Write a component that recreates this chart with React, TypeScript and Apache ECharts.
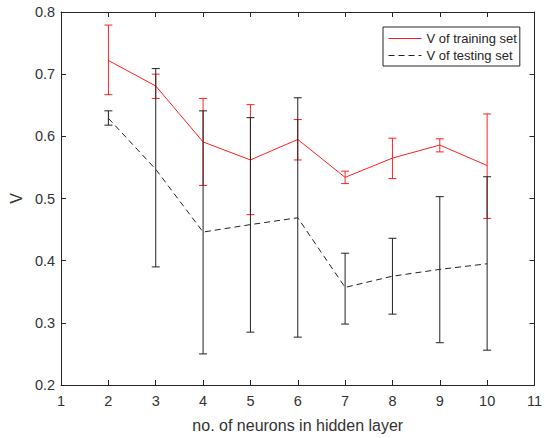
import React, { useEffect, useRef } from "react";
import * as echarts from "echarts";

const neurons = [2, 3, 4, 5, 6, 7, 8, 9, 10];
const trainMean = [0.722, 0.681, 0.591, 0.562, 0.595, 0.534, 0.565, 0.586, 0.553];
const trainHigh = [0.779, 0.700, 0.661, 0.651, 0.627, 0.544, 0.597, 0.596, 0.636];
const trainLow = [0.667, 0.661, 0.521, 0.474, 0.562, 0.524, 0.532, 0.575, 0.468];
const testMean = [0.629, 0.547, 0.446, 0.458, 0.469, 0.357, 0.375, 0.386, 0.395];
const testHigh = [0.641, 0.709, 0.641, 0.630, 0.662, 0.412, 0.436, 0.503, 0.535];
const testLow = [0.618, 0.390, 0.250, 0.285, 0.277, 0.298, 0.314, 0.268, 0.256];
const xRange = [1, 11];
const yRange = [0.2, 0.8];

const AXIS = "#262626";
const TEXT = "#333333";
const RED = "#ff2020";
const BLACK = "#222";
const FONT = "Liberation Sans, Arial, sans-serif";

function errorSeries(name: string, low: number[], high: number[], color: string, z: number) {
  return {
    type: "custom",
    name,
    z,
    data: neurons.map((x, i) => [x, low[i], high[i]]),
    renderItem: (params: any, api: any) => {
      const x = api.value(0);
      const lo = api.coord([x, api.value(1)]);
      const hi = api.coord([x, api.value(2)]);
      const w = 4;
      const style = { stroke: color, lineWidth: 1 };
      return {
        type: "group",
        children: [
          { type: "line", shape: { x1: lo[0], y1: lo[1], x2: hi[0], y2: hi[1] }, style },
          { type: "line", shape: { x1: lo[0] - w, y1: lo[1], x2: lo[0] + w, y2: lo[1] }, style },
          { type: "line", shape: { x1: hi[0] - w, y1: hi[1], x2: hi[0] + w, y2: hi[1] }, style },
        ],
      };
    },
  };
}

export default function App() {
  const ref = useRef<HTMLDivElement>(null);
  useEffect(() => {
    document.body.style.margin = "0";
    document.body.style.overflow = "hidden";
    const chart = echarts.init(ref.current!, null, { renderer: "svg" });
    const axisLine = { show: true, lineStyle: { color: AXIS, width: 1 } };
    const tick = { show: true, inside: true, length: 5, lineStyle: { color: AXIS } };
    const label = { color: TEXT, fontSize: 14.5, fontFamily: FONT };
    chart.setOption({
      animation: false,
      backgroundColor: "#fff",
      textStyle: { fontFamily: FONT },
      grid: { left: 59, right: 10, top: 12, bottom: 51 },
      legend: {
        orient: "vertical",
        left: 383,
        top: 27,
        padding: [5, 3, 4, 5],
        itemGap: 4,
        itemWidth: 33,
        itemHeight: 13,
        borderColor: AXIS,
        borderWidth: 1,
        borderRadius: 0,
        backgroundColor: "#fff",
        itemStyle: { opacity: 0 },
        lineStyle: { width: 1 },
        textStyle: { color: "#262626", fontSize: 13, fontFamily: FONT },
        data: ["V of training set", "V of testing set"],
      },
      xAxis: [
        {
          type: "value",
          min: xRange[0],
          max: xRange[1],
          interval: 1,
          axisLine,
          axisTick: tick,
          axisLabel: { ...label, margin: 8 },
          splitLine: { show: false },
          name: "no. of neurons in hidden layer",
          nameLocation: "middle",
          nameGap: 32,
          nameTextStyle: { color: TEXT, fontSize: 16, fontFamily: FONT },
        },
        {
          type: "value",
          position: "top",
          min: xRange[0],
          max: xRange[1],
          interval: 1,
          axisLine,
          axisTick: tick,
          axisLabel: { show: false },
          splitLine: { show: false },
        },
      ],
      yAxis: [
        {
          type: "value",
          min: yRange[0],
          max: yRange[1],
          interval: 0.1,
          axisLine,
          axisTick: tick,
          axisLabel: { ...label, margin: 6, formatter: (v: number) => v.toFixed(1) },
          splitLine: { show: false },
          name: "V",
          nameLocation: "middle",
          nameGap: 31,
          nameTextStyle: { color: TEXT, fontSize: 16, fontFamily: FONT },
        },
        {
          type: "value",
          position: "right",
          min: yRange[0],
          max: yRange[1],
          interval: 0.1,
          axisLine,
          axisTick: tick,
          axisLabel: { show: false },
          splitLine: { show: false },
        },
      ],
      series: [
        {
          type: "line",
          name: "V of training set",
          data: neurons.map((x, i) => [x, trainMean[i]]),
          symbol: "none",
          color: RED,
          lineStyle: { color: RED, width: 1 },
          z: 2,
        },
        errorSeries("V of training set", trainLow, trainHigh, RED, 3),
        {
          type: "line",
          name: "V of testing set",
          data: neurons.map((x, i) => [x, testMean[i]]),
          symbol: "none",
          color: BLACK,
          lineStyle: { color: BLACK, width: 1, type: [6, 4] },
          z: 4,
        },
        errorSeries("V of testing set", testLow, testHigh, BLACK, 5),
      ],
    });
    return () => chart.dispose();
  }, []);
  return <div ref={ref} style={{ position: "fixed", left: 0, top: 0, width: 545, height: 438 }} />;
}
